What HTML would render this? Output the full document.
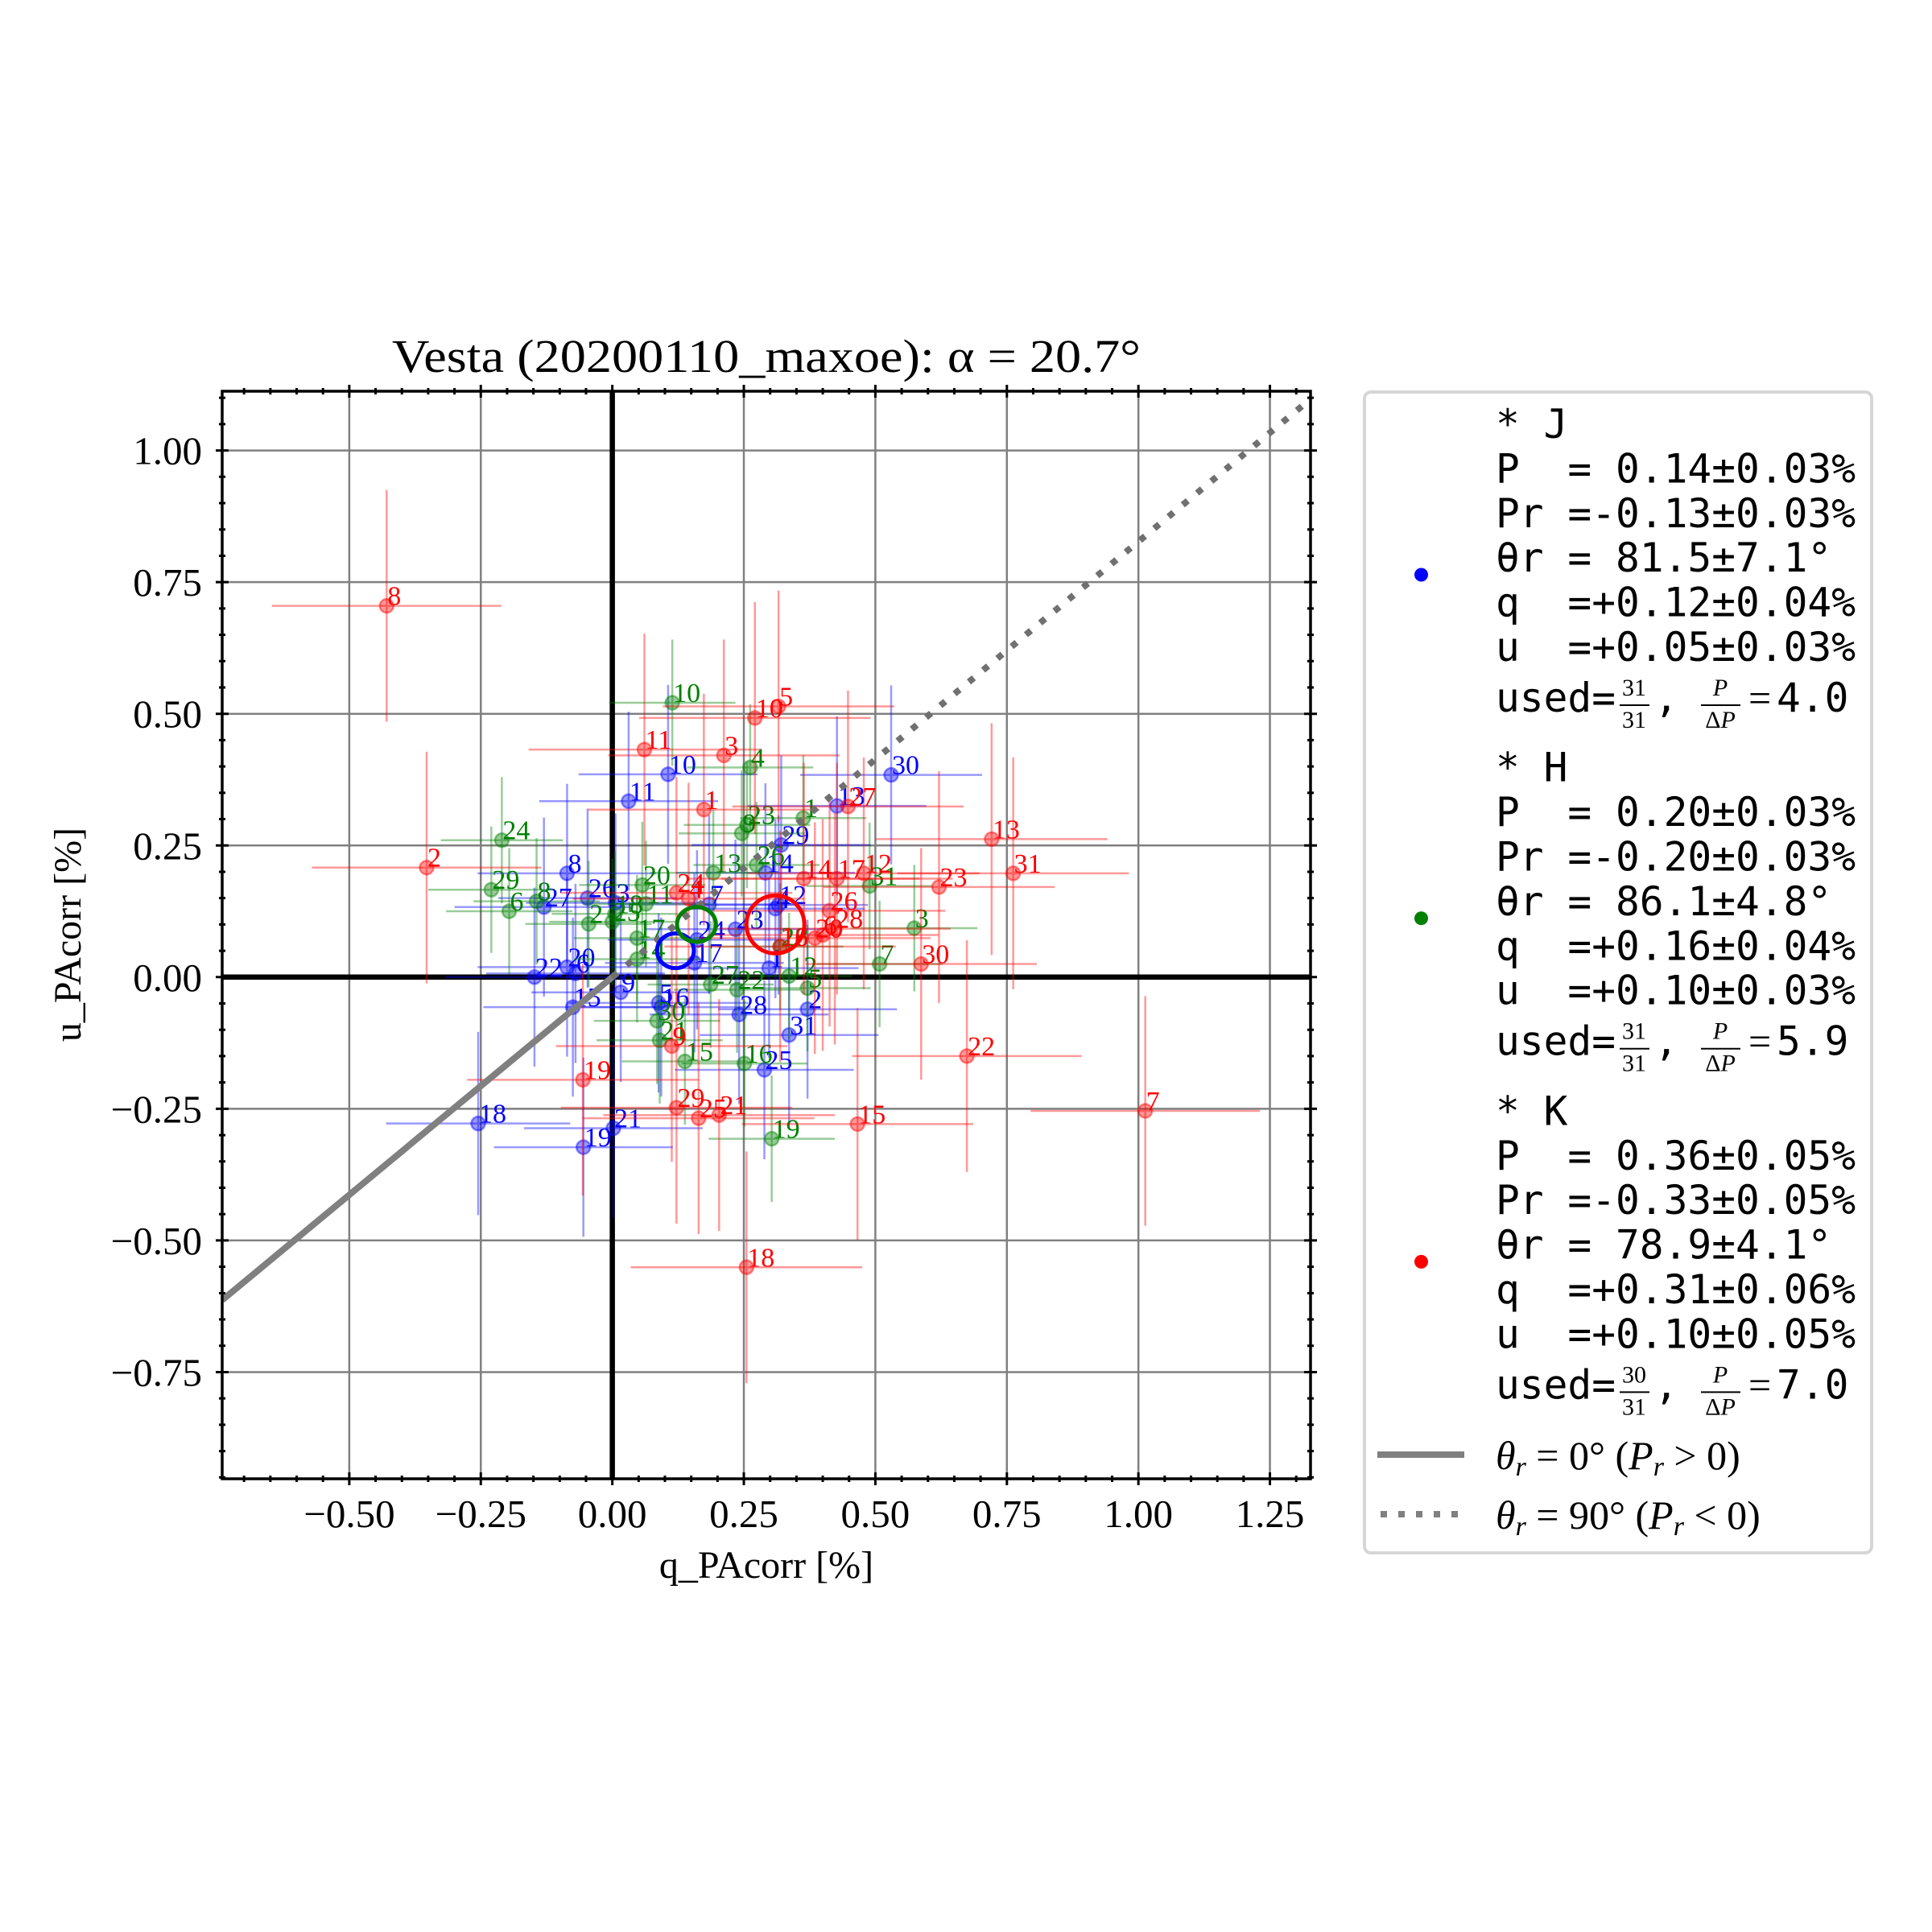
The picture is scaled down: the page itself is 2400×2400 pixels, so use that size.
<!DOCTYPE html>
<html><head><meta charset="utf-8"><style>
html,body{margin:0;padding:0;background:#fff;}
svg{display:block;}
.serif{font-family:"Liberation Serif","DejaVu Serif",serif;}
.mono{font-family:"DejaVu Sans Mono","Liberation Mono",monospace;}
</style></head><body>
<svg id="chart" xmlns="http://www.w3.org/2000/svg" width="2400" height="2400" viewBox="0 0 2400 2400">
<rect x="0" y="0" width="2400" height="2400" fill="#fff"/>
<defs><clipPath id="axclip"><rect x="276" y="486" width="1352" height="1351"/></clipPath></defs>
<text class="serif" x="952" y="462" font-size="58" text-anchor="middle" textLength="930" lengthAdjust="spacingAndGlyphs">Vesta (20200110_maxoe): α = 20.7°</text>
<g id="grid"></g>
<g id="plot" clip-path="url(#axclip)"></g>
<g id="axes"></g>
<text class="serif" x="952" y="1960" font-size="48" text-anchor="middle">q_PAcorr [%]</text>
<text class="serif" x="0" y="0" font-size="48" text-anchor="middle" transform="translate(100,1161) rotate(-90)">u_PAcorr [%]</text>

<g>
<rect x="1695" y="487" width="630" height="1442" rx="8" fill="#fff" stroke="#d6d6d6" stroke-width="4"/>
<g id="legend-groups"></g>
<line x1="1711" y1="1807" x2="1819" y2="1807" stroke="#808080" stroke-width="8"/>
<text class="serif" x="1858" y="1825" font-size="50"><tspan font-style="italic">θ<tspan font-size="34" dy="8">r</tspan></tspan><tspan dy="-8"> = 0° (</tspan><tspan font-style="italic">P<tspan font-size="34" dy="8">r</tspan></tspan><tspan dy="-8"> &gt; 0)</tspan></text>
<line x1="1715" y1="1881" x2="1819" y2="1881" stroke="#808080" stroke-width="8" stroke-dasharray="8 14"/>
<text class="serif" x="1858" y="1899" font-size="50"><tspan font-style="italic">θ<tspan font-size="34" dy="8">r</tspan></tspan><tspan dy="-8"> = 90° (</tspan><tspan font-style="italic">P<tspan font-size="34" dy="8">r</tspan></tspan><tspan dy="-8"> &lt; 0)</tspan></text>
</g>
</svg>
<script>
// ---- data ----
const jQ = [0.298,0.371,0.006,0.310,0.088,-0.070,0.184,-0.086,0.016,0.106,0.031,0.316,0.427,0.291,-0.075,0.093,0.156,-0.255,-0.055,-0.086,0.002,-0.148,0.234,0.161,0.289,-0.047,-0.130,0.241,0.321,0.530,0.336];
const jU = [0.017,-0.061,0.141,0.130,-0.049,0.007,0.138,0.197,-0.029,0.385,0.334,0.137,0.325,0.198,-0.057,-0.057,0.027,-0.278,-0.323,0.019,-0.287,0.000,0.091,0.071,-0.176,0.150,0.133,-0.071,0.251,0.384,-0.110];
const jQerr = [0.17,0.17,0.17,0.17,0.17,0.17,0.17,0.17,0.17,0.17,0.17,0.17,0.17,0.17,0.17,0.17,0.17,0.175,0.17,0.17,0.17,0.17,0.17,0.17,0.17,0.17,0.17,0.17,0.17,0.173,0.17];
const jUerr = [0.17,0.17,0.17,0.17,0.17,0.17,0.17,0.17,0.17,0.17,0.17,0.17,0.17,0.17,0.17,0.17,0.17,0.174,0.17,0.17,0.17,0.17,0.17,0.17,0.17,0.17,0.17,0.17,0.17,0.17,0.17];
const hQ = [0.363,-0.045,0.574,0.262,0.371,-0.196,0.508,-0.144,0.246,0.114,0.064,0.336,0.192,0.047,0.138,0.251,0.047,0.005,0.303,0.057,0.090,0.237,0.256,-0.210,0.000,0.274,0.187,0.319,-0.230,0.085,0.489];
const hU = [0.302,0.101,0.093,0.398,-0.021,0.125,0.025,0.144,0.273,0.521,0.139,0.002,0.198,0.034,-0.160,-0.164,0.074,0.120,-0.307,0.175,-0.120,-0.024,0.289,0.260,0.105,0.213,-0.014,0.058,0.166,-0.083,0.173];
const hQerr = [0.12,0.12,0.12,0.12,0.12,0.12,0.12,0.12,0.12,0.12,0.12,0.12,0.12,0.12,0.12,0.12,0.12,0.12,0.12,0.12,0.12,0.12,0.12,0.116,0.12,0.12,0.12,0.12,0.12,0.12,0.12];
const hUerr = [0.12,0.12,0.12,0.12,0.12,0.12,0.12,0.12,0.12,0.12,0.12,0.12,0.12,0.12,0.12,0.12,0.12,0.12,0.12,0.12,0.12,0.12,0.12,0.12,0.12,0.12,0.12,0.12,0.12,0.12,0.12];
const kQ = [0.174,-0.353,0.212,0.145,0.316,0.400,1.013,-0.429,0.113,0.271,0.061,0.478,0.721,0.364,0.466,0.319,0.427,0.255,-0.056,0.385,0.203,0.674,0.621,0.122,0.164,0.413,0.448,0.423,0.122,0.587,0.762];
const kU = [0.318,0.208,0.421,0.149,0.514,0.080,-0.254,0.705,-0.131,0.492,0.432,0.197,0.262,0.187,-0.279,0.058,0.187,-0.551,-0.195,0.074,-0.262,-0.150,0.171,0.160,-0.268,0.126,0.324,0.092,-0.248,0.025,0.197];
const kQerr = [0.22,0.218,0.22,0.22,0.22,0.22,0.218,0.218,0.22,0.22,0.22,0.22,0.22,0.22,0.22,0.22,0.22,0.22,0.22,0.22,0.22,0.218,0.22,0.22,0.22,0.22,0.22,0.22,0.22,0.22,0.22];
const kUerr = [0.22,0.22,0.22,0.22,0.22,0.22,0.218,0.22,0.22,0.22,0.22,0.22,0.22,0.22,0.22,0.22,0.22,0.22,0.22,0.22,0.22,0.22,0.22,0.22,0.22,0.22,0.22,0.22,0.22,0.22,0.22];
const meanQ = [0.12, 0.16, 0.31];
const meanU = [0.05, 0.10, 0.10];
const meanQerr = [0.035, 0.037, 0.055];
const meanUerr = [0.033, 0.033, 0.055];
const xTicks = [-0.5,-0.25,0,0.25,0.5,0.75,1.0,1.25];
const xTickLabels = ["−0.50","−0.25","0.00","0.25","0.50","0.75","1.00","1.25"];
const yTicks = [-0.75,-0.5,-0.25,0,0.25,0.5,0.75,1.0];
const yTickLabels = ["−0.75","−0.50","−0.25","0.00","0.25","0.50","0.75","1.00"];
const refSlope = 0.827;

// ---- axes ----
const X0=276, X1=1628, Y0=486, Y1=1837;
const QMIN=-0.7416, QMAX=1.3272, UMIN=-0.9526, UMAX=1.1125;
function sx(q){return X0+(q-QMIN)/(QMAX-QMIN)*(X1-X0);}
function sy(u){return Y1-(u-UMIN)/(UMAX-UMIN)*(Y1-Y0);}
const NS="http://www.w3.org/2000/svg";
function mk(tag,attrs,parent){const e=document.createElementNS(NS,tag);for(const k in attrs)e.setAttribute(k,attrs[k]);parent.appendChild(e);return e;}
const grid=document.getElementById('grid'), plot=document.getElementById('plot'), axes=document.getElementById('axes');

xTicks.forEach((t,i)=>{
  const l=mk('line',{x1:sx(t),x2:sx(t),y1:Y0,y2:Y1,stroke:'#808080','stroke-width':2.5},grid);
  
  
});
yTicks.forEach((t,i)=>{
  const l=mk('line',{x1:X0,x2:X1,y1:sy(t),y2:sy(t),stroke:'#808080','stroke-width':2.5},grid);
  
  
});
const zx=mk('line',{x1:sx(0),x2:sx(0),y1:Y0,y2:Y1,stroke:'#000','stroke-width':6.5},plot);


const zy=mk('line',{x1:X0,x2:X1,y1:sy(0),y2:sy(0),stroke:'#000','stroke-width':6.5},plot);



const series=[
 {name:'j',q:jQ,u:jU,qe:jQerr,ue:jUerr,col:'0,0,255',txt:'#0000ff'},
 {name:'h',q:hQ,u:hU,qe:hQerr,ue:hUerr,col:'0,128,0',txt:'#008000'},
 {name:'k',q:kQ,u:kU,qe:kQerr,ue:kUerr,col:'255,0,0',txt:'#ff0000'}
];
series.forEach(s=>{
  const g=mk('g',{},plot);
  
  
  for(let i=0;i<s.q.length;i++){
    const cx=sx(s.q[i]), cy=sy(s.u[i]);
    const eb=mk('path',{d:`M${sx(s.q[i]-s.qe[i])},${cy}H${sx(s.q[i]+s.qe[i])}M${cx},${sy(s.u[i]+s.ue[i])}V${sy(s.u[i]-s.ue[i])}`,stroke:`rgba(${s.col},0.4)`,'stroke-width':2.5,fill:'none'},g);
    
    
  }
  for(let i=0;i<s.q.length;i++){
    const cx=sx(s.q[i]), cy=sy(s.u[i]);
    const c=mk('circle',{cx:cx,cy:cy,r:8.5,fill:`rgba(${s.col},0.4)`,stroke:`rgba(${s.col},0.45)`,'stroke-width':2.5},g);
    
    
    const t=mk('text',{x:cx+1,y:cy-1,'font-size':34,fill:s.txt,class:'serif'},g);
    t.textContent=String(i+1);
    
    
  }
});
const qL=QMIN, qR=QMAX;
const solid=mk('line',{x1:sx(0),y1:sy(0),x2:sx(qL),y2:sy(refSlope*qL),stroke:'#808080','stroke-width':8},plot);


const dotted=mk('line',{x1:sx(0),y1:sy(0),x2:sx(qR),y2:sy(refSlope*qR),stroke:'#707070','stroke-width':8,'stroke-dasharray':'8 15'},plot);


const mcol=['#0000ff','#008000','#ff0000'];
const mname=['j','h','k'];
for(let i=0;i<3;i++){
  const e=mk('ellipse',{cx:sx(meanQ[i]),cy:sy(meanU[i]),rx:sx(meanQ[i]+meanQerr[i])-sx(meanQ[i]),ry:sy(meanU[i])-sy(meanU[i]+meanUerr[i]),fill:'none',stroke:mcol[i],'stroke-width':5},plot);
  
  
}
const sp=mk('rect',{x:X0,y:Y0,width:X1-X0,height:Y1-Y0,fill:'none',stroke:'#000','stroke-width':3.5},axes);


let d='';
for(let k=-14;k<=26;k++){const v=k*0.05; if(v<QMIN||v>QMAX)continue; const major=Math.abs(v/0.25-Math.round(v/0.25))<1e-6; const L=major?8:4; const x=sx(v); d+=`M${x},${Y0-L}V${Y0+L}M${x},${Y1-L}V${Y1+L}`;}
for(let k=-19;k<=22;k++){const v=k*0.05; if(v<UMIN||v>UMAX)continue; const major=Math.abs(v/0.25-Math.round(v/0.25))<1e-6; const L=major?8:4; const y=sy(v); d+=`M${X0-L},${y}H${X0+L}M${X1-L},${y}H${X1+L}`;}
const tk=mk('path',{d:d,stroke:'#000','stroke-width':3,fill:'none'},axes);


xTicks.forEach((t,i)=>{
  const e=mk('text',{x:sx(t),y:1897,'font-size':49,'text-anchor':'middle',class:'serif'},axes);
  e.textContent=xTickLabels[i];
  
  
});
yTicks.forEach((t,i)=>{
  const e=mk('text',{x:251,y:sy(t)+17,'font-size':49,'text-anchor':'end',class:'serif'},axes);
  e.textContent=yTickLabels[i];
  
  
});
const legendNames=['J','H','K'];
const legendLines=[
 ['P  = 0.14±0.03%','Pr =-0.13±0.03%','θr = 81.5±7.1°','q  =+0.12±0.04%','u  =+0.05±0.03%'],
 ['P  = 0.20±0.03%','Pr =-0.20±0.03%','θr = 86.1±4.8°','q  =+0.16±0.04%','u  =+0.10±0.03%'],
 ['P  = 0.36±0.05%','Pr =-0.33±0.05%','θr = 78.9±4.1°','q  =+0.31±0.06%','u  =+0.10±0.05%']
];
const legendUsed=['31','31','30'];
const legendSnr=['4.0','5.9','7.0'];
const lg=document.getElementById('legend-groups');
for(let g=0;g<3;g++){
  const off=g*426.7;
  const grp=mk('g',{},lg);
  
  
  const dot=mk('circle',{cx:1765.5,cy:714+off,r:8.5,fill:mcol[g]},grp);
  
  
  const lines=['* '+legendNames[g]].concat(legendLines[g]);
  lines.forEach((s,i)=>{
    const t=mk('text',{x:1858,y:544+off+i*55.4,'font-size':49.5,class:'mono'},grp);
    t.style.whiteSpace='pre';
    t.textContent=s;
    
    
  });
  const by=884+off;
  const u1=mk('text',{x:1858,y:by,'font-size':49.5,class:'mono'},grp);
  u1.textContent='used=';
  
  
  const n=mk('text',{x:2030,y:by-20,'font-size':30,'text-anchor':'middle',class:'serif'},grp);
  n.textContent=legendUsed[g];
  
  
  mk('line',{x1:2012,x2:2049,y1:by-8,y2:by-8,stroke:'#000','stroke-width':2},grp);
  const dn=mk('text',{x:2030,y:by+20,'font-size':30,'text-anchor':'middle',class:'serif'},grp);
  dn.textContent='31';
  
  
  const cm=mk('text',{x:2055,y:by,'font-size':49.5,class:'mono'},grp);
  cm.textContent=',';
  
  
  const pn=mk('text',{x:2137,y:by-20,'font-size':30,'text-anchor':'middle','font-style':'italic',class:'serif'},grp);
  pn.textContent='P';
  
  
  mk('line',{x1:2113,x2:2162,y1:by-8,y2:by-8,stroke:'#000','stroke-width':2},grp);
  const pd=mk('text',{x:2137,y:by+20,'font-size':30,'text-anchor':'middle',class:'serif'},grp);
  pd.innerHTML='Δ<tspan font-style="italic">P</tspan>';
  
  
  const eq=mk('text',{x:2172,y:by,'font-size':50,class:'serif'},grp);
  eq.textContent='=';
  
  
  const sv=mk('text',{x:2207,y:by,'font-size':49.5,class:'mono'},grp);
  sv.textContent=legendSnr[g];
  
  
}
</script>
</body></html>
